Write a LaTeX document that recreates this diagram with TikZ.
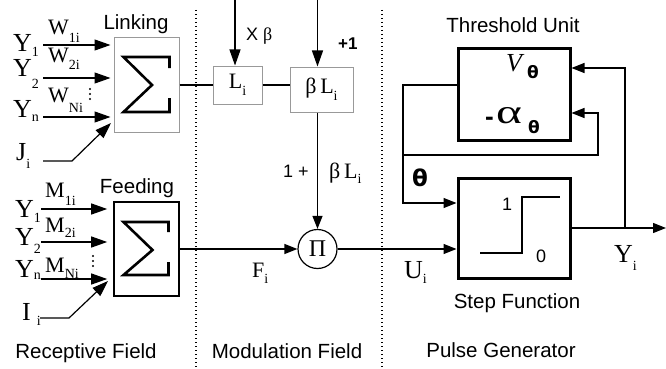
\documentclass[tikz,border=0pt]{standalone}
\usepackage{fontspec}
\setmainfont{Liberation Serif}
\setsansfont{Liberation Sans}
\newfontfamily\dvb{DejaVu Sans}
\usetikzlibrary{arrows.meta}
\newcommand\sbs[2][5pt]{\raisebox{-#1}{\fontsize{14}{14}\selectfont #2}}
\tikzset{
 ln/.style={line width=1.2pt},
 arr/.style={line width=1.2pt, -{Triangle[length=13pt,width=10pt]}},
 arrL/.style={line width=1.2pt, -{Triangle[length=16pt,width=11pt]}},
 gbox/.style={draw=black!40, line width=1pt, inner sep=0},
 bbox/.style={draw, line width=1.6pt, inner sep=0},
 tbox/.style={draw, line width=3pt, inner sep=0},
 sf/.style={font=\sffamily\fontsize{20.5}{22}\selectfont, inner sep=0, anchor=base},
 sfs/.style={font=\sffamily\fontsize{18}{20}\selectfont, inner sep=0, anchor=base west},
 rm/.style={font=\fontsize{26}{28}\selectfont, inner sep=0, anchor=base west},
 rw/.style={font=\fontsize{22}{24}\selectfont, inner sep=0, anchor=base west},
 dotline/.style={line width=1.5pt, dash pattern=on 1.2pt off 2.8pt},
 sig/.style={line width=2.6pt, line join=miter, line cap=butt},
}
\begin{document}
\begin{tikzpicture}[x=1pt,y=-1pt]
\useasboundingbox (0,0) rectangle (666,369);
% dotted separators
\coordinate (d1a) at (196,10); \coordinate (d1b) at (196,369);
\coordinate (d2a) at (382,10); \coordinate (d2b) at (382,369);
\draw[dotline] (d1a) -- (d1b);
\draw[dotline] (d2a) -- (d2b);

% ---------- Receptive field ----------
\node[gbox, minimum width=65pt, minimum height=94pt] (link) at (146.5,85) {};
\node[bbox, minimum width=65pt, minimum height=94pt] (feed) at (146.5,249) {};
\begin{scope}[shift={(link.center)}]
\draw[sig] (23,-17) -- (23,-28) -- (-23,-28) -- (5.5,0) -- (-23,27) -- (23,27) -- (23,13);
\end{scope}
\begin{scope}[shift={(feed.center)}]
\draw[sig] (22,-17) -- (22,-27) -- (-23,-27) -- (6,1) -- (-23,26) -- (22,26) -- (22,13);
\end{scope}
\node[sf] (linklab) at (136,30) {Linking};
\node[sf] (feedlab) at (137,193) {Feeding};

% linking inputs
\coordinate (l1) at (43,45); \coordinate (l2) at (43,78); \coordinate (l3) at (43,117);
\draw[arrL, shorten >=3pt] (l1) -- (l1 -| link.west);
\draw[arrL, shorten >=3pt] (l2) -- (l2 -| link.west);
\draw[arrL, shorten >=3pt] (l3) -- (l3 -| link.west);
\coordinate (ja) at (43,161); \coordinate (jb) at (72,161); \coordinate (jc) at (111,123);
\draw[arrL] (ja) -- (jb) -- (jc);
\node[rm] (ly1) at (13,52) {Y\sbs{1}};
\node[rm] (ly2) at (13,77) {Y\sbs[12pt]{2}};
\node[rm] (lyn) at (13,117) {Y\sbs[4pt]{n}};
\node[rm] (lj) at (16,160) {J\sbs[8pt]{i}};
\node[rw] (w1) at (48,35) {W\sbs[7pt]{1i}};
\node[rw] (w2) at (48,63) {W\sbs[7pt]{2i}};
\node[rw] (wn) at (48,102) {W\sbs[10pt]{Ni}};
\fill (90,89) circle (1.1) (90,94) circle (1.1) (90,99) circle (1.1);

% feeding inputs
\coordinate (f1) at (41,209); \coordinate (f2) at (41,242); \coordinate (f3) at (41,279);
\draw[arrL, shorten >=6pt] (f1) -- (f1 -| feed.west);
\draw[arrL, shorten >=6pt] (f2) -- (f2 -| feed.west);
\draw[arrL, shorten >=6pt] (f3) -- (f3 -| feed.west);
\coordinate (ia) at (40,318); \coordinate (ib) at (69,318); \coordinate (ic) at (108,281);
\draw[arrL] (ia) -- (ib) -- (ic);
\node[rm] (fy1) at (15,217) {Y\sbs{1}};
\node[rm] (fy2) at (15,245) {Y\sbs[8pt]{2}};
\node[rm] (fyn) at (15,277) {Y\sbs[2pt]{n}};
\node[rm] (fi) at (22,320) {I\hspace{6pt}\sbs[5pt]{i}};
\node[rw] (m1) at (45,197) {M\sbs[8pt]{1i}};
\node[rw] (m2) at (45,232) {M\sbs[5pt]{2i}};
\node[rw] (mn) at (45,272) {M\sbs[6pt]{Ni}};
\fill (93,256) circle (1.1) (93,261) circle (1.1) (93,266) circle (1.1);
\node[sf] (rf) at (86,358) {Receptive Field};

% ---------- Modulation field ----------
\node[gbox, minimum width=49pt, minimum height=38pt, font=\fontsize{22}{24}\selectfont] (L) at (237.5,85) {L\sbs[7pt]{i}};
\node[gbox, minimum width=63pt, minimum height=45pt, font=\fontsize{22}{24}\selectfont] (bL) at (321.5,89.5) {β\,L\sbs[7pt]{i}};
\draw[ln] (link.east) -- (L.west);
\draw[ln] (L.east) -- (L.east -| bL.west);
\node[circle, draw, line width=1.2pt, minimum size=39pt, inner sep=0, font=\fontsize{24}{24}\selectfont] (pi) at (317.5,249) {Π};
\coordinate (lt) at (235,0); \coordinate (bt) at (317.5,0);
\draw[arrL] (lt) -- (lt |- L.north);
\draw[arrL] (bt) -- (bt |- bL.north);
\draw[arr] (pi |- bL.south) -- (pi.north);
\draw[arr] (feed.east) -- (feed.east -| pi.west);
\node[sfs] (xb) at (246,41) {X {\rmfamily β}};
\node[sfs, font=\sffamily\bfseries\fontsize{17}{20}\selectfont] (p1) at (338,50) {+1};
\node[sfs] (onep) at (283,177) {1 +};
\node[rw] (bli) at (329,178) {β\,L\sbs[5pt]{i}};
\node[rw] (fl) at (252,277) {F\sbs[6pt]{i}};
\node[sf] (mf) at (287,358) {Modulation Field};

% ---------- Pulse generator ----------
\node[tbox, minimum width=112pt, minimum height=91pt] (thr) at (514,94.5) {};
\node[tbox, minimum width=112pt, minimum height=100pt] (step) at (514,228) {};
\node[sf] (thl) at (513,33) {Threshold Unit};
\node[sf] (stl) at (517,308) {Step Function};
\node[sf] (pg) at (501,357) {Pulse Generator};
\node[inner sep=0, anchor=base west, font=\fontsize{26}{28}\selectfont\itshape] (vt) at (506,71) {V};
\node[inner sep=0, anchor=base west, font=\dvb\bfseries\fontsize{17}{20}\selectfont] (vth) at (527,78) {θ};
\node[inner sep=0, anchor=base west, font=\sffamily\bfseries\fontsize{26}{26}\selectfont] (mi) at (485,125) {-};
\node[inner sep=0, anchor=base west, font=\fontsize{34}{34}\selectfont] (al) at (496,123) {\scalebox{1.45}[1]{α}};
\node[inner sep=0, anchor=base west, font=\dvb\bfseries\fontsize{17}{20}\selectfont] (ath) at (528,133) {θ};
\node[inner sep=0, anchor=base west, font=\dvb\bfseries\fontsize{23}{24}\selectfont] (thlab) at (412,186) {θ};
% step curve
\coordinate (s1) at (480,253); \coordinate (s2) at (522,253); \coordinate (s3) at (522,197); \coordinate (s4) at (560,197);
\draw[line width=1.4pt] (s1) -- (s2) -- (s3) -- (s4);
\node[sfs] (one) at (502,210) {1};
\node[sfs] (zero) at (536,262) {0};
% connectors
\coordinate (ta) at (403,85); \coordinate (tb) at (403,203);
\draw[arr] (ta -| thr.west) -- (ta) -- (tb) -- (tb -| step.west);
\coordinate (tc) at (403,155); \coordinate (td) at (598,155); \coordinate (te) at (598,113);
\draw[arr] (tc) -- (td) -- (te) -- (te -| thr.east);
\coordinate (tf) at (625,68);
\draw[arr] (tf |- step.east) -- (tf) -- (tf -| thr.east);
\coordinate (out) at (666,228);
\draw[arr] (step.east) -- (out);
\draw[arr] (pi.east) -- (pi.east -| step.west);
\node[rm] (ui) at (404,278) {U\sbs[5pt]{i}};
\node[rm] (yi) at (614,262) {Y\sbs[8pt]{i}};
\end{tikzpicture}
\end{document}
